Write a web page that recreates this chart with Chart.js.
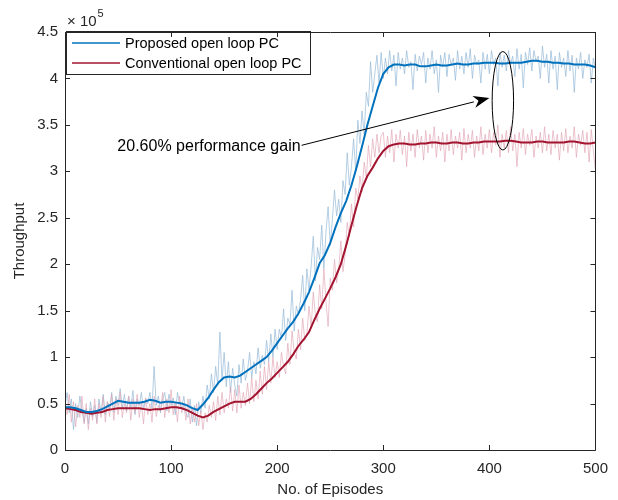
<!DOCTYPE html>
<html>
<head>
<meta charset="utf-8">
<script src="https://cdn.jsdelivr.net/npm/chart.js@4/dist/chart.umd.min.js"></script>
<style>
  html, body { margin: 0; padding: 0; background: #fff; }
  #wrap { width: 618px; height: 500px; }
</style>
</head>
<body>
<div id="wrap"><canvas id="chart" width="618" height="500"></canvas></div>
<script>
// throughput in units of 1e5
const RAW_STEP = 2;
const SMOOTH_STEP = 5;

const proposedRaw = [
    0.48, 0.62, 0.40, 0.55, 0.22, 0.50, 0.35, 0.58, 0.42, 0.30,
    0.45, 0.28, 0.52, 0.36, 0.48, 0.30, 0.55, 0.40, 0.60, 0.38,
    0.52, 0.44, 0.62, 0.40, 0.58, 0.48, 0.66, 0.45, 0.60, 0.42,
    0.58, 0.46, 0.64, 0.38, 0.55, 0.48, 0.62, 0.44, 0.56, 0.50,
    0.62, 0.45, 0.90, 0.48, 0.58, 0.40, 0.55, 0.62, 0.42, 0.60,
    0.48, 0.56, 0.38, 0.62, 0.50, 0.45, 0.58, 0.40, 0.35, 0.55,
    0.30, 0.48, 0.26, 0.52, 0.40, 0.58, 0.45, 0.70, 0.55, 0.82,
    0.62, 0.90, 0.70, 1.27, 0.75, 1.05, 0.68, 0.95, 0.62, 0.88,
    0.70, 0.58, 0.92, 0.72, 0.98, 0.75, 0.85, 1.05, 0.78, 0.95,
    0.82, 1.10, 0.88, 1.02, 0.92, 1.18, 0.95, 1.25, 1.00, 1.30,
    1.08, 1.30, 1.20, 1.52, 1.18, 1.42, 1.35, 1.72, 1.28, 1.55,
    1.45, 1.62, 1.88, 1.50, 1.95, 1.72, 1.98, 2.30, 1.82, 2.18,
    2.05, 2.42, 1.95, 2.35, 2.62, 2.20, 2.48, 2.80, 2.52, 2.70,
    2.45, 2.90, 2.75, 3.20, 2.85, 3.05, 3.35, 3.00, 3.55, 3.30,
    3.65, 3.40, 3.85, 3.70, 4.18, 3.85, 4.05, 4.25, 3.95, 4.28,
    4.00, 4.22, 4.05, 4.30, 4.08, 4.25, 3.92, 4.28, 4.10, 4.22,
    4.05, 4.30, 4.12, 4.18, 3.88, 4.26, 4.08, 4.24, 4.15, 4.28,
    3.95, 4.22, 4.10, 4.30, 4.05, 4.20, 3.85, 4.25, 4.12, 4.28,
    4.02, 4.26, 4.15, 4.22, 3.98, 4.30, 4.10, 4.24, 4.05, 4.28,
    4.12, 4.32, 4.00, 4.25, 4.15, 4.20, 3.95, 4.28, 4.10, 4.26,
    4.05, 4.30, 4.15, 4.22, 3.92, 4.28, 4.12, 4.25, 4.08, 4.30,
    4.15, 4.24, 4.02, 4.32, 4.10, 4.26, 3.90, 4.28, 4.15, 4.33,
    4.08, 4.30, 4.18, 4.24, 4.00, 4.35, 4.12, 4.26, 3.95, 4.30,
    4.10, 4.24, 3.88, 4.28, 4.12, 4.22, 4.02, 4.30, 4.08, 4.25,
    3.85, 4.22, 4.10, 4.28, 4.00, 4.20, 4.12, 4.26, 3.95, 4.22,
    4.10
];

const conventionalRaw = [
    0.55, 0.38, 0.60, 0.30, 0.52, 0.25, 0.48, 0.35, 0.58, 0.28,
    0.50, 0.22, 0.45, 0.32, 0.55, 0.28, 0.50, 0.35, 0.58, 0.30,
    0.52, 0.36, 0.60, 0.32, 0.55, 0.38, 0.62, 0.35, 0.50, 0.40,
    0.58, 0.32, 0.55, 0.40, 0.60, 0.35, 0.52, 0.28, 0.56, 0.38,
    0.50, 0.30, 0.58, 0.36, 0.48, 0.42, 0.62, 0.35, 0.55, 0.40,
    0.65, 0.38, 0.52, 0.30, 0.58, 0.40, 0.48, 0.32, 0.55, 0.28,
    0.45, 0.30, 0.50, 0.26, 0.42, 0.22, 0.40, 0.30, 0.48, 0.35,
    0.52, 0.32, 0.58, 0.38, 0.62, 0.40, 0.55, 0.45, 0.68, 0.42,
    0.65, 0.40, 0.70, 0.45, 0.62, 0.48, 0.72, 0.50, 0.78, 0.52,
    0.75, 0.55, 0.85, 0.60, 0.90, 0.65, 0.95, 0.72, 1.00, 0.78,
    0.95, 0.78, 1.05, 0.90, 0.82, 1.15, 0.92, 1.28, 1.05, 0.98,
    1.30, 1.08, 1.42, 1.18, 1.25, 1.55, 1.32, 1.70, 1.45, 1.38,
    1.78, 1.52, 1.95, 1.60, 1.33, 1.85, 1.72, 2.05, 1.80, 1.95,
    2.25, 1.92, 2.10, 2.45, 2.30, 2.65, 2.40, 2.82, 2.70, 2.95,
    2.78, 3.10, 2.92, 3.28, 3.05, 3.35, 3.15, 3.40, 3.20, 3.38,
    3.42, 3.15, 3.38, 3.20, 3.45, 3.10, 3.40, 3.25, 3.44, 3.18,
    3.38, 3.05, 3.42, 3.22, 3.40, 3.15, 3.45, 3.25, 3.38, 3.12,
    3.44, 3.20, 3.40, 3.25, 3.48, 3.15, 3.38, 3.22, 3.42, 3.10,
    3.40, 3.22, 3.45, 3.18, 3.38, 3.25, 3.42, 3.12, 3.46, 3.20,
    3.40, 3.25, 3.44, 3.15, 3.38, 3.22, 3.48, 3.18, 3.40, 3.25,
    3.45, 3.20, 3.42, 3.28, 3.50, 3.15, 3.40, 3.25, 3.44, 3.20,
    3.48, 3.22, 3.40, 3.05, 3.42, 3.25, 3.46, 3.18, 3.40, 3.28,
    3.45, 3.15, 3.38, 3.25, 3.42, 3.20, 3.48, 3.22, 3.40, 3.18,
    3.44, 3.25, 3.40, 3.12, 3.42, 3.22, 3.46, 3.20, 3.38, 3.25,
    3.48, 3.15, 3.40, 3.28, 3.44, 3.20, 3.42, 3.10, 3.45, 3.22,
    3.00
];

const proposedSmooth = [
    0.46, 0.46, 0.45, 0.43, 0.41, 0.41, 0.42, 0.44, 0.47, 0.50,
    0.53, 0.52, 0.51, 0.51, 0.51, 0.52, 0.54, 0.53, 0.51, 0.52,
    0.52, 0.51, 0.50, 0.48, 0.45, 0.43, 0.49, 0.56, 0.65, 0.73,
    0.78, 0.79, 0.78, 0.80, 0.84, 0.88, 0.92, 0.96, 1.00, 1.07,
    1.15, 1.23, 1.31, 1.38, 1.47, 1.58, 1.70, 1.85, 2.01, 2.10,
    2.23, 2.40, 2.55, 2.68, 2.85, 3.05, 3.27, 3.50, 3.70, 3.90,
    4.05, 4.12, 4.15, 4.15, 4.14, 4.15, 4.15, 4.13, 4.13, 4.14,
    4.15, 4.14, 4.14, 4.15, 4.16, 4.15, 4.15, 4.16, 4.16, 4.17,
    4.17, 4.17, 4.16, 4.16, 4.17, 4.17, 4.17, 4.18, 4.19, 4.19,
    4.18, 4.18, 4.17, 4.17, 4.16, 4.16, 4.15, 4.15, 4.15, 4.14,
    4.12
];

const conventionalSmooth = [
    0.45, 0.44, 0.43, 0.41, 0.40, 0.39, 0.40, 0.41, 0.43, 0.44,
    0.45, 0.45, 0.45, 0.45, 0.45, 0.44, 0.43, 0.44, 0.44, 0.45,
    0.46, 0.46, 0.45, 0.43, 0.40, 0.37, 0.35, 0.37, 0.41, 0.44,
    0.47, 0.50, 0.52, 0.52, 0.52, 0.55, 0.60, 0.66, 0.72, 0.77,
    0.83, 0.89, 0.95, 1.03, 1.12, 1.19, 1.27, 1.40, 1.52, 1.63,
    1.74, 1.86, 2.00, 2.20, 2.42, 2.63, 2.82, 2.95, 3.04, 3.14,
    3.22, 3.27, 3.29, 3.30, 3.30, 3.29, 3.29, 3.30, 3.30, 3.31,
    3.31, 3.30, 3.30, 3.31, 3.31, 3.30, 3.30, 3.31, 3.31, 3.32,
    3.32, 3.32, 3.32, 3.33, 3.33, 3.32, 3.31, 3.31, 3.31, 3.32,
    3.32, 3.31, 3.31, 3.31, 3.31, 3.32, 3.32, 3.31, 3.30, 3.30,
    3.31
];

const seriesNames = ['Proposed open loop PC', 'Conventional open loop PC'];
const xTicks = [0, 100, 200, 300, 400, 500];
const yTicks = [0, 0.5, 1, 1.5, 2, 2.5, 3, 3.5, 4, 4.5];

// annotation, in data units
const gainText = '20.60% performance gain';
const arrowFrom = { x: 223, y: 3.28 };
const arrowTo = { x: 400, y: 3.79 };
const ellipseAt = { x: 412.7, y: 3.76, rx: 10.1, ry: 0.53 };

const BLUE = '#0072BD';
const RED = '#A2142F';
const AXIS = '#262626';
const FONT = '"Liberation Sans", Arial, sans-serif';

function to_points(values, step) {
    return values.map((v, i) => ({ x: i * step, y: v }));
}

const box_plugin = {
    id: 'matlab_box',
    afterDatasetsDraw(chart) {
        const { ctx, chartArea: a, scales } = chart;
        const xs = scales.x, ys = scales.y;
        ctx.save();

        // legend
        const lx = 66.5, ly = 31.5, lw = 244, lh = 43;
        ctx.fillStyle = '#fff';
        ctx.fillRect(lx, ly, lw, lh);
        ctx.strokeStyle = AXIS;
        ctx.lineWidth = 1;
        ctx.strokeRect(lx, ly, lw, lh);
        ctx.font = '14.5px ' + FONT;
        ctx.textBaseline = 'middle';
        ctx.textAlign = 'left';
        [[BLUE, 43], [RED, 63]].forEach(([c, y], i) => {
            ctx.strokeStyle = c;
            ctx.lineWidth = 1.5;
            ctx.beginPath();
            ctx.moveTo(72, y);
            ctx.lineTo(120, y);
            ctx.stroke();
            ctx.fillStyle = '#000';
            ctx.fillText(seriesNames[i], 125, y + 1);
        });

        // box and inward ticks
        ctx.strokeStyle = AXIS;
        ctx.lineWidth = 1;
        ctx.beginPath();
        ctx.rect(Math.round(a.left) + 0.5, Math.round(a.top) + 0.5,
                 Math.round(a.right - a.left), Math.round(a.bottom - a.top));
        const tl = 5;
        xTicks.forEach(t => {
            const px = Math.round(xs.getPixelForValue(t)) + 0.5;
            ctx.moveTo(px, a.bottom); ctx.lineTo(px, a.bottom - tl);
            ctx.moveTo(px, a.top); ctx.lineTo(px, a.top + tl);
        });
        yTicks.forEach(t => {
            const py = Math.round(ys.getPixelForValue(t)) + 0.5;
            ctx.moveTo(a.left, py); ctx.lineTo(a.left + tl, py);
            ctx.moveTo(a.right, py); ctx.lineTo(a.right - tl, py);
        });
        ctx.stroke();

        // exponent label
        ctx.fillStyle = AXIS;
        ctx.textBaseline = 'alphabetic';
        ctx.font = '15px ' + FONT;
        ctx.fillText('\u00d7', 67, 25.5);
        ctx.fillText('10', 80, 25.5);
        ctx.font = '11px ' + FONT;
        ctx.fillText('5', 97.5, 16.5);

        // annotation: ellipse, arrow, text
        const ex = xs.getPixelForValue(ellipseAt.x);
        const ey = ys.getPixelForValue(ellipseAt.y);
        const erx = xs.getPixelForValue(ellipseAt.x + ellipseAt.rx) - ex;
        const ery = ey - ys.getPixelForValue(ellipseAt.y + ellipseAt.ry);
        ctx.strokeStyle = '#000';
        ctx.lineWidth = 1;
        ctx.beginPath();
        ctx.ellipse(ex, ey, erx, ery, 0, 0, Math.PI * 2);
        ctx.stroke();

        const x0 = xs.getPixelForValue(arrowFrom.x), y0 = ys.getPixelForValue(arrowFrom.y);
        const x1 = xs.getPixelForValue(arrowTo.x), y1 = ys.getPixelForValue(arrowTo.y);
        const ang = Math.atan2(y1 - y0, x1 - x0);
        const hl = 16, hw = 6;
        const bx = x1 - hl * Math.cos(ang), by = y1 - hl * Math.sin(ang);
        ctx.beginPath();
        ctx.moveTo(x0, y0);
        ctx.lineTo(bx, by);
        ctx.stroke();
        ctx.fillStyle = '#000';
        ctx.beginPath();
        ctx.moveTo(x1, y1);
        ctx.lineTo(bx + hw * Math.sin(ang), by - hw * Math.cos(ang));
        ctx.lineTo(x1 - 0.7 * hl * Math.cos(ang), y1 - 0.7 * hl * Math.sin(ang));
        ctx.lineTo(bx - hw * Math.sin(ang), by + hw * Math.cos(ang));
        ctx.closePath();
        ctx.fill();

        ctx.font = '16px ' + FONT;
        ctx.textAlign = 'right';
        ctx.textBaseline = 'middle';
        ctx.fillText(gainText, x0 - 1, y0 + 1);

        ctx.restore();
    }
};

const ctx = document.getElementById('chart');
new Chart(ctx, {
    type: 'line',
    data: {
        datasets: [
            {
                label: seriesNames[0],
                data: to_points(proposedSmooth, SMOOTH_STEP),
                borderColor: BLUE, borderWidth: 2, order: 0,
            },
            {
                label: seriesNames[1],
                data: to_points(conventionalSmooth, SMOOTH_STEP),
                borderColor: RED, borderWidth: 2, order: 0,
            },
            {
                label: 'proposed raw',
                data: to_points(proposedRaw, RAW_STEP),
                borderColor: 'rgba(150,185,215,0.7)', borderWidth: 1, order: 2,
            },
            {
                label: 'conventional raw',
                data: to_points(conventionalRaw, RAW_STEP),
                borderColor: 'rgba(225,165,180,0.65)', borderWidth: 1, order: 1,
            },
        ]
    },
    options: {
        responsive: false,
        animation: false,
        devicePixelRatio: 1,
        layout: { padding: { left: 0, top: 32, right: 22, bottom: 0 } },
        elements: { point: { radius: 0 }, line: { tension: 0, fill: false } },
        plugins: { legend: { display: false }, tooltip: { enabled: false } },
        scales: {
            x: {
                type: 'linear', min: 0, max: 500,
                afterFit: s => { s.height = 50; },
                afterBuildTicks: s => { s.ticks = xTicks.map(v => ({ value: v })); },
                grid: { display: false, drawTicks: false },
                border: { display: false },
                ticks: {
                    color: AXIS, font: { family: FONT, size: 15 }, padding: 10, maxRotation: 0,
                    callback: v => String(v),
                },
                title: {
                    display: true, text: 'No. of Episodes', color: AXIS,
                    font: { family: FONT, size: 15 }, padding: { top: 0, bottom: 1 },
                },
            },
            y: {
                type: 'linear', min: 0, max: 4.5,
                afterFit: s => { s.width = 65; },
                afterBuildTicks: s => { s.ticks = yTicks.map(v => ({ value: v })); },
                grid: { display: false, drawTicks: false },
                border: { display: false },
                ticks: {
                    color: AXIS, font: { family: FONT, size: 15 }, padding: 7,
                    callback: v => String(v),
                },
                title: {
                    display: true, text: 'Throughput', color: AXIS,
                    font: { family: FONT, size: 15 }, padding: { top: 11, bottom: 0 },
                },
            },
        },
    },
    plugins: [box_plugin],
});
</script>
</body>
</html>
